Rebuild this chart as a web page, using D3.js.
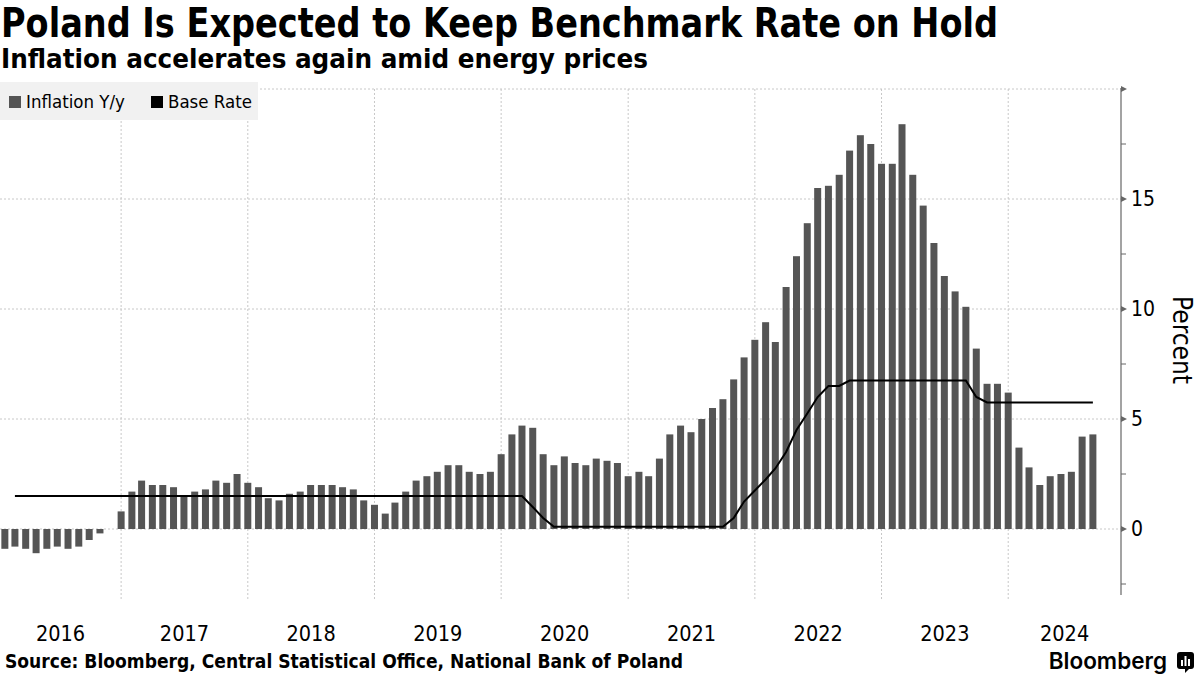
<!DOCTYPE html>
<html>
<head>
<meta charset="utf-8">
<script src="https://cdn.jsdelivr.net/npm/d3@7"></script>
<style>
  body { margin: 0; background: #fff; }
  svg { display: block; }
  .narrow { font-family: "Liberation Sans Narrow", "DejaVu Sans Condensed", "Roboto", sans-serif; }
</style>
</head>
<body>
<svg id="chart" width="1200" height="675"></svg>
<script>
// monthly CPI y/y, Jan 2016 .. Aug 2024
const inflStart = "2016-01-01";
const inflation = [
  -0.9, -0.8, -0.9, -1.1, -0.9, -0.8, -0.9, -0.8, -0.5, -0.2, 0.0, 0.8,   // 2016
  1.7, 2.2, 2.0, 2.0, 1.9, 1.5, 1.7, 1.8, 2.2, 2.1, 2.5, 2.1,             // 2017
  1.9, 1.4, 1.3, 1.6, 1.7, 2.0, 2.0, 2.0, 1.9, 1.8, 1.3, 1.1,             // 2018
  0.7, 1.2, 1.7, 2.2, 2.4, 2.6, 2.9, 2.9, 2.6, 2.5, 2.6, 3.4,             // 2019
  4.3, 4.7, 4.6, 3.4, 2.9, 3.3, 3.0, 2.9, 3.2, 3.1, 3.0, 2.4,             // 2020
  2.6, 2.4, 3.2, 4.3, 4.7, 4.4, 5.0, 5.5, 5.9, 6.8, 7.8, 8.6,             // 2021
  9.4, 8.5, 11.0, 12.4, 13.9, 15.5, 15.6, 16.1, 17.2, 17.9, 17.5, 16.6,   // 2022
  16.6, 18.4, 16.1, 14.7, 13.0, 11.5, 10.8, 10.1, 8.2, 6.6, 6.6, 6.2,     // 2023
  3.7, 2.8, 2.0, 2.4, 2.5, 2.6, 4.2, 4.3                                 // 2024
];

// base rate, month-end points where the line changes direction
const rateMonths = ["2016-02", "2020-02", "2020-03", "2020-04", "2020-05", "2021-09", "2021-10",
  "2021-11", "2021-12", "2022-01", "2022-02", "2022-03", "2022-04", "2022-05", "2022-06",
  "2022-07", "2022-08", "2022-09", "2023-08", "2023-09", "2023-10", "2024-08"];
const rateValues = [1.5, 1.5, 1.0, 0.5, 0.1, 0.1, 0.5,
  1.25, 1.75, 2.25, 2.75, 3.5, 4.5, 5.25, 6.0,
  6.5, 6.5, 6.75, 6.75, 6.0, 5.75, 5.75];

const years = [2016, 2017, 2018, 2019, 2020, 2021, 2022, 2023, 2024];
const yMajor = [0, 5, 10, 15, 20];
const yMinor = [-2.5, 2.5, 7.5, 12.5, 17.5];
const yLabels = [0, 5, 10, 15];

const svg = d3.select('#chart');
const pLeft = 0, pRight = 1121, pTop = 89, pBottom = 595;

const x = d3.scaleUtc()
  .domain([new Date(Date.UTC(2016, 0, 18)), new Date(Date.UTC(2024, 10, 21))])
  .range([pLeft, pRight]);
const y = d3.scaleLinear().domain([-3, 20]).range([pBottom, pTop]);

const parseM = d3.utcParse('%Y-%m');
const start = new Date(inflStart + 'T00:00:00Z');
// bars sit on the end of their month
const bars = inflation.map((v, i) => ({ date: d3.utcMonth.offset(start, i + 1), value: v }));
const rate = rateMonths.map((m, i) => ({ date: d3.utcMonth.offset(parseM(m), 1), value: rateValues[i] }));

// grid
const grid = svg.append('g');
grid.selectAll('line.h').data(yMajor).join('line')
  .attr('class', 'h')
  .attr('x1', pLeft).attr('x2', pRight)
  .attr('y1', d => y(d)).attr('y2', d => y(d))
  .attr('stroke', '#c8c8c8').attr('stroke-dasharray', '2,2');

const yearStarts = years.map(yr => new Date(Date.UTC(yr, 0, 1))).filter(d => x(d) >= pLeft);
grid.selectAll('line.v').data(yearStarts).join('line')
  .attr('class', 'v')
  .attr('x1', d => x(d)).attr('x2', d => x(d))
  .attr('y1', pTop).attr('y2', pBottom + 6)
  .attr('stroke', '#c8c8c8').attr('stroke-dasharray', '2,2');

// legend box
const legend = svg.append('g').attr('class', 'narrow');
legend.append('rect').attr('x', 0).attr('y', 82).attr('width', 258).attr('height', 38).attr('fill', '#f1f1f1');
const items = [{ label: 'Inflation Y/y', color: '#555555', x: 9 }, { label: 'Base Rate', color: '#000000', x: 151 }];
const li = legend.selectAll('g.item').data(items).join('g').attr('transform', d => `translate(${d.x},0)`);
li.append('rect').attr('x', 0).attr('y', 96).attr('width', 12).attr('height', 12).attr('fill', d => d.color);
li.append('text').attr('x', 17).attr('y', 108).attr('font-size', 18.5).attr('fill', '#000').text(d => d.label);

// bars
const bw = 7;
svg.append('g').selectAll('rect').data(bars).join('rect')
  .attr('x', d => x(d.date) - bw / 2)
  .attr('width', bw)
  .attr('y', d => y(Math.max(0, d.value)))
  .attr('height', d => Math.abs(y(d.value) - y(0)))
  .attr('fill', '#555555');

// base rate line
svg.append('path')
  .datum(rate)
  .attr('fill', 'none')
  .attr('stroke', '#000')
  .attr('stroke-width', 2)
  .attr('d', d3.line().x(d => x(d.date)).y(d => y(d.value)));

// right axis
const ax = svg.append('g').attr('class', 'narrow');
ax.append('line').attr('x1', pRight).attr('x2', pRight).attr('y1', pTop - 1).attr('y2', pBottom)
  .attr('stroke', '#666').attr('stroke-width', 1.2);
ax.selectAll('path.maj').data(yMajor).join('path')
  .attr('d', d => `M${pRight},${y(d) - 3}L${pRight + 6},${y(d)}L${pRight},${y(d) + 3}Z`)
  .attr('fill', '#666');
ax.selectAll('line.min').data(yMinor).join('line')
  .attr('x1', pRight).attr('x2', pRight + 5)
  .attr('y1', d => y(d)).attr('y2', d => y(d))
  .attr('stroke', '#666');
ax.selectAll('text.tl').data(yLabels).join('text')
  .attr('class', 'tl')
  .attr('x', pRight + 10).attr('y', d => y(d)).attr('dy', '0.35em')
  .attr('font-size', 21).attr('fill', '#000')
  .text(d => d);
ax.append('text')
  .attr('transform', `translate(1173,340) rotate(90)`)
  .attr('text-anchor', 'middle')
  .attr('font-size', 26)
  .text('Percent');

// year labels, centred in the visible part of each year
svg.append('g').attr('class', 'narrow').selectAll('text').data(years).join('text')
  .attr('x', yr => {
    const a = Math.max(pLeft, x(new Date(Date.UTC(yr, 0, 1))));
    const b = Math.min(pRight, x(new Date(Date.UTC(yr + 1, 0, 1))));
    return (a + b) / 2;
  })
  .attr('y', 641)
  .attr('text-anchor', 'middle')
  .attr('font-size', 21.5)
  .text(d => d);

// titles
function fit(sel, w) {
  sel.attr('textLength', w).attr('lengthAdjust', 'spacingAndGlyphs');
}
svg.append('text').attr('class', 'narrow').attr('x', 1).attr('y', 37)
  .attr('font-size', 40).attr('font-weight', 'bold')
  .text('Poland Is Expected to Keep Benchmark Rate on Hold').call(fit, 997);
svg.append('text').attr('class', 'narrow').attr('x', 1).attr('y', 68)
  .attr('font-size', 26).attr('font-weight', 'bold')
  .text('Inflation accelerates again amid energy prices').call(fit, 647);
svg.append('text').attr('class', 'narrow').attr('x', 5).attr('y', 668)
  .attr('font-size', 19).attr('font-weight', 'bold')
  .text('Source: Bloomberg, Central Statistical Office, National Bank of Poland').call(fit, 678);

// logo
const logo = svg.append('g');
logo.append('text').attr('x', 1167).attr('y', 669).attr('text-anchor', 'end')
  .attr('font-family', 'Inter, Roboto, sans-serif').attr('font-weight', 600).attr('font-size', 22.5)
  .text('Bloomberg');
logo.append('rect').attr('x', 1177).attr('y', 652).attr('width', 17).attr('height', 17).attr('rx', 3).attr('fill', '#000');
logo.append('path').attr('d', 'M1185,669L1185,673L1189,669Z').attr('fill', '#000');
logo.selectAll('rect.b').data([6, 10, 7]).join('rect')
  .attr('class', 'b')
  .attr('x', (d, i) => 1181 + i * 3.5).attr('y', d => 666 - d).attr('width', 2).attr('height', d => d)
  .attr('fill', '#fff');
</script>
</body>
</html>
